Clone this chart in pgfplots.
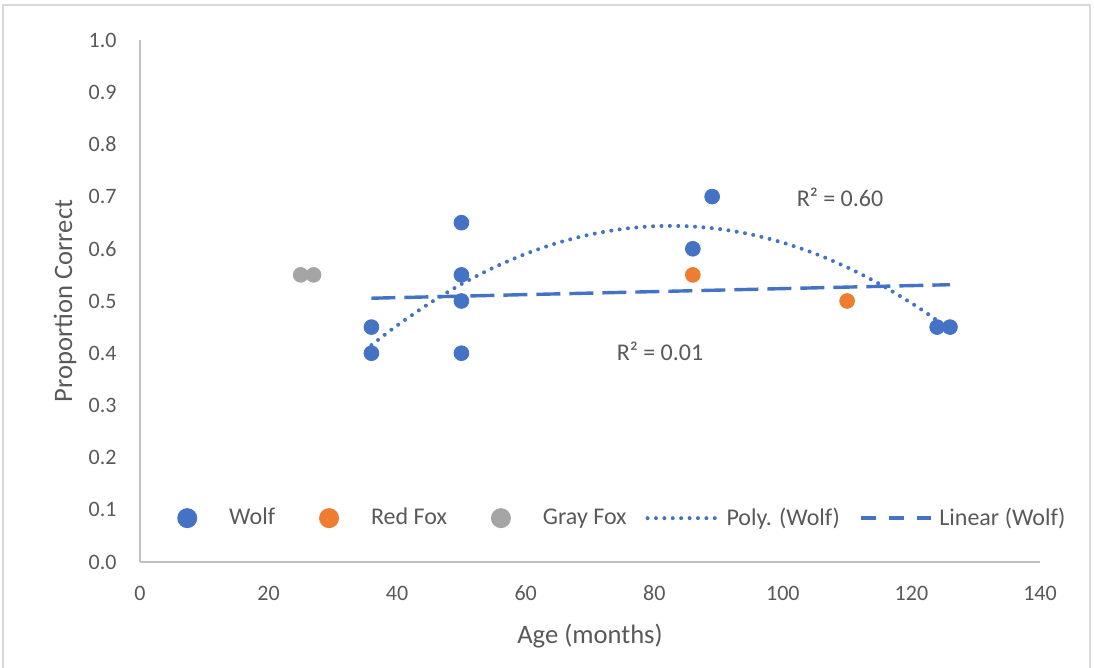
\documentclass[border=0pt]{standalone}
\usepackage{fontspec}
\setmainfont{Carlito}
\usepackage{pgfplots}
\pgfplotsset{compat=1.18}
\definecolor{wolf}{HTML}{4472C4}
\definecolor{redfox}{HTML}{ED7D31}
\definecolor{grayfox}{HTML}{A5A5A5}
\definecolor{txt}{HTML}{595959}
\definecolor{axl}{HTML}{BFBFBF}
\definecolor{brd}{HTML}{D9D9D9}
\pgfplotsset{
 markleg/.style={legend image code/.code={\path[draw=none,fill=none] (0pt,0pt) -- (35pt,0pt); \fill[draw=none] (17.5pt,0pt) circle[radius=5pt];}},
}
\begin{document}
\begin{tikzpicture}
\useasboundingbox (-70pt,-53pt) rectangle (477pt,281pt);
\draw[brd, line width=0.7pt] (-68.5pt,-53pt) -- (-68.5pt,278.5pt) -- (475pt,278.5pt) -- (475pt,-53pt);
\begin{axis}[
 at={(0,0)}, anchor=south west,
 scale only axis, width=450pt, height=261pt,
 xmin=0, xmax=140, ymin=0, ymax=1,
 axis x line=bottom, axis y line=left,
 axis line style={axl, line width=0.75pt, -},
 xtick={0,20,40,60,80,100,120,140},
 ytick={0,0.1,0.2,0.3,0.4,0.5,0.6,0.7,0.8,0.9,1.0},
 major tick length=0pt,
 /pgf/number format/assume math mode=true,
 tick label style={font=\fontsize{11}{13}\selectfont, text=txt},
 yticklabel style={/pgf/number format/.cd, fixed, fixed zerofill, precision=1, /tikz/.cd, anchor=east, inner sep=0pt, xshift=-11.5pt},
 xticklabel style={anchor=center, inner sep=0pt, yshift=-15.5pt},
 xlabel={Age (months)}, ylabel={Proportion Correct},
 xlabel style={at={(axis description cs:0.5,-0.1418)}, anchor=center, font=\fontsize{13.3}{15}\selectfont, text=txt},
 ylabel style={at={(axis description cs:-0.0833,0.5)}, anchor=center, font=\fontsize{13.3}{15}\selectfont, text=txt},
 legend columns=5,
 legend style={at={(0.521,0.084)}, anchor=center, draw=none, fill=none, font=\fontsize{12}{14}\selectfont, text=txt, column sep=0pt, /tikz/every odd column/.style={column sep=3.5pt}, /tikz/every even column/.style={column sep=9.5pt}, nodes={inner sep=0pt}},
]
\addplot[only marks, mark=*, mark size=3.7pt, color=wolf, markleg] coordinates {
 (36,0.45) (36,0.40) (50,0.65) (50,0.55) (50,0.50) (50,0.40) (86,0.60) (89,0.70) (124,0.45) (126,0.45)};
\addlegendentry{Wolf}
\addplot[only marks, mark=*, mark size=3.7pt, color=redfox, markleg] coordinates {(86,0.55) (110,0.50)};
\addlegendentry{Red Fox}
\addplot[only marks, mark=*, mark size=3.7pt, color=grayfox, markleg] coordinates {(25,0.55) (27,0.55)};
\addlegendentry{Gray Fox}
\addplot[wolf, line width=2pt, line cap=round, dash pattern=on 0pt off 4.2pt, smooth, legend image code/.code={\draw (0pt,0pt) -- (35pt,0pt);}] coordinates {
 (36,0.4155) (40,0.4531) (45,0.4953) (50,0.5323) (55,0.5639) (60,0.5903) (65,0.6115) (70,0.6273) (75,0.6379) (80,0.6433) (85,0.6433) (90,0.6381) (95,0.6276) (100,0.6118) (105,0.5908) (110,0.5645) (115,0.5329) (120,0.4960) (123,0.4714) (126,0.4449)};
\addlegendentry{Poly. (Wolf)}
\addplot[wolf, line width=1.7pt, dash pattern=on 12pt off 4.5pt, legend image code/.code={\draw[dash pattern=on 7.5pt off 6.5pt] (0pt,0pt) -- (35pt,0pt);}] coordinates {(36,0.5053) (126,0.5312)};
\addlegendentry{Linear (Wolf)}
\node[font=\fontsize{12}{14}\selectfont, text=txt] at (axis cs:108.9,0.699) {R² = 0.60};
\node[font=\fontsize{12}{14}\selectfont, text=txt] at (axis cs:80.9,0.404) {R² = 0.01};
\end{axis}
\end{tikzpicture}
\end{document}
